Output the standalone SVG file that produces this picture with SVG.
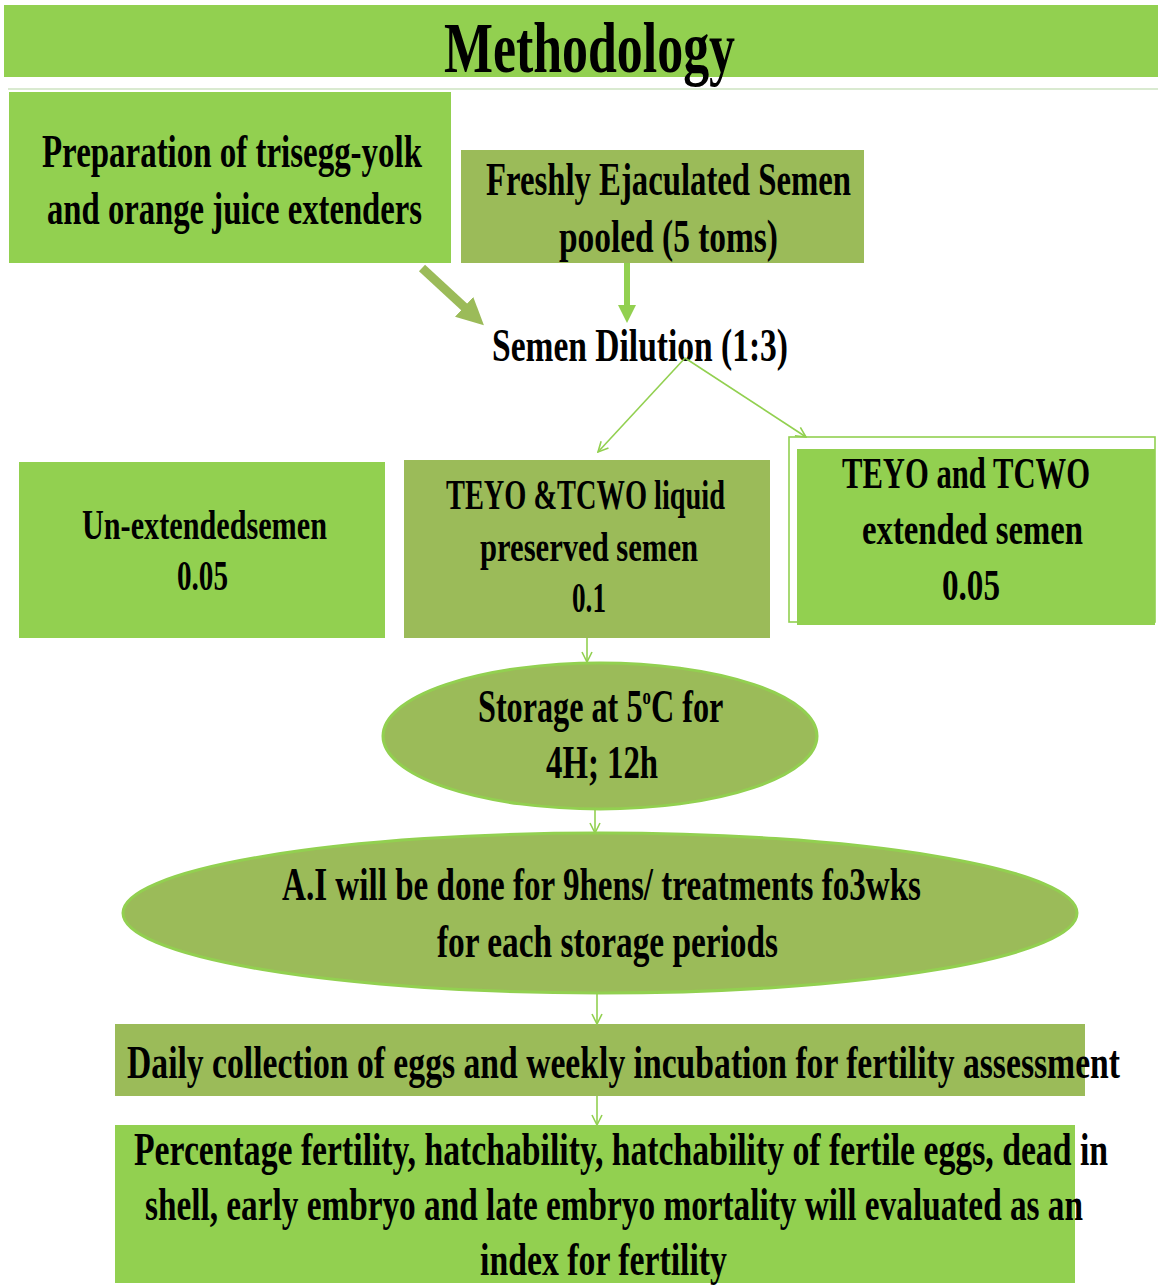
<svg xmlns="http://www.w3.org/2000/svg" width="1158" height="1287" viewBox="0 0 1158 1287">
<defs>
<style>
.t{font-family:"Liberation Serif","Times New Roman",serif;font-weight:bold;fill:#000;}
.lg{fill:#92D050;}
.ol{fill:#9BBB59;}
.thin{stroke:#92D050;stroke-width:1.6;fill:none;}
</style>
<marker id="vh" viewBox="0 0 12 12" refX="11" refY="6" markerWidth="12" markerHeight="12" markerUnits="userSpaceOnUse" orient="auto">
<path d="M1,1 L11,6 L1,11" fill="none" stroke="#92D050" stroke-width="1.6"/>
</marker>
<marker id="thk1" viewBox="0 0 10 10" refX="5" refY="5" markerWidth="3" markerHeight="3" orient="auto">
<path d="M0,0 L10,5 L0,10 Z" fill="#9BBB59"/>
</marker>
<marker id="thk2" viewBox="0 0 10 10" refX="5" refY="5" markerWidth="3" markerHeight="3" orient="auto">
<path d="M0,0 L10,5 L0,10 Z" fill="#92D050"/>
</marker>
</defs>
<rect width="1158" height="1287" fill="#fff"/>

<g id="title">
<rect x="4" y="5" width="1154" height="72" class="lg"/>
<line x1="8" y1="89" x2="1158" y2="89" stroke="#d9ead0" stroke-width="2"/>
<text class="t" x="444" y="72" font-size="72" textLength="291" lengthAdjust="spacingAndGlyphs">Methodology</text>
</g>

<g id="prep">
<rect x="9" y="92" width="442" height="171" class="lg"/>
<text class="t" x="42" y="167" font-size="46" textLength="380" lengthAdjust="spacingAndGlyphs">Preparation of trisegg-yolk</text>
<text class="t" x="47" y="224" font-size="46" textLength="375" lengthAdjust="spacingAndGlyphs">and orange juice extenders</text>
</g>

<g id="fresh">
<rect x="461" y="150" width="403" height="113" class="ol"/>
<text class="t" x="486" y="195" font-size="46" textLength="365" lengthAdjust="spacingAndGlyphs">Freshly Ejaculated Semen</text>
<text class="t" x="559" y="252" font-size="46" textLength="219" lengthAdjust="spacingAndGlyphs">pooled (5 toms)</text>
</g>

<g id="dilution">
<text class="t" x="492" y="361" font-size="46" textLength="296" lengthAdjust="spacingAndGlyphs">Semen Dilution (1:3)</text>
</g>

<g id="unext">
<rect x="19" y="462" width="366" height="176" class="lg"/>
<text class="t" x="82" y="539" font-size="42" textLength="245" lengthAdjust="spacingAndGlyphs">Un-extendedsemen</text>
<text class="t" x="177" y="590" font-size="42" textLength="51" lengthAdjust="spacingAndGlyphs">0.05</text>
</g>

<g id="liquid">
<rect x="404" y="460" width="366" height="178" class="ol"/>
<text class="t" x="446" y="509" font-size="42" textLength="279" lengthAdjust="spacingAndGlyphs">TEYO &amp;TCWO liquid</text>
<text class="t" x="480" y="561" font-size="42" textLength="218" lengthAdjust="spacingAndGlyphs">preserved semen</text>
<text class="t" x="572" y="612" font-size="42" textLength="34" lengthAdjust="spacingAndGlyphs">0.1</text>
</g>

<g id="extended">
<rect x="789" y="437" width="366" height="185" fill="#fff" stroke="#92D050" stroke-width="1.6"/>
<rect x="797" y="449" width="358" height="176" class="lg"/>
<text class="t" x="842" y="488" font-size="44" textLength="248" lengthAdjust="spacingAndGlyphs">TEYO and TCWO</text>
<text class="t" x="862" y="544" font-size="44" textLength="221" lengthAdjust="spacingAndGlyphs">extended semen</text>
<text class="t" x="942" y="600" font-size="44" textLength="58" lengthAdjust="spacingAndGlyphs">0.05</text>
</g>

<g id="storage">
<ellipse cx="600" cy="736" rx="217" ry="73" class="ol" stroke="#92D050" stroke-width="3"/>
<text class="t" transform="translate(478,722) scale(0.70,1)" x="0" y="0" font-size="46">Storage at 5<tspan font-size="24" dy="-18">o</tspan><tspan dy="18">C for</tspan></text>
<text class="t" x="546" y="778" font-size="46" textLength="112" lengthAdjust="spacingAndGlyphs">4H; 12h</text>
</g>

<g id="ai">
<ellipse cx="600" cy="913" rx="477" ry="80" class="ol" stroke="#92D050" stroke-width="3"/>
<text class="t" x="282" y="900" font-size="46" textLength="639" lengthAdjust="spacingAndGlyphs">A.I will be done for 9hens/ treatments fo3wks</text>
<text class="t" x="437" y="957" font-size="46" textLength="341" lengthAdjust="spacingAndGlyphs">for each storage periods</text>
</g>

<g id="daily">
<rect x="115" y="1024" width="970" height="72" class="ol"/>
<text class="t" x="127" y="1078" font-size="46" textLength="993" lengthAdjust="spacingAndGlyphs">Daily collection of eggs and weekly incubation for fertility assessment</text>
</g>

<g id="percent">
<rect x="115" y="1125" width="960" height="158" class="lg"/>
<text class="t" x="134" y="1165" font-size="46" textLength="974" lengthAdjust="spacingAndGlyphs">Percentage fertility, hatchability, hatchability of fertile eggs, dead in</text>
<text class="t" x="145" y="1220" font-size="46" textLength="938" lengthAdjust="spacingAndGlyphs">shell, early embryo and late embryo mortality will evaluated as an</text>
<text class="t" x="480" y="1275" font-size="46" textLength="247" lengthAdjust="spacingAndGlyphs">index for fertility</text>
</g>

<g id="connectors">
<line x1="422" y1="268" x2="474" y2="316" stroke="#9BBB59" stroke-width="9" marker-end="url(#thk1)"/>
<line x1="627" y1="263" x2="627" y2="314" stroke="#92D050" stroke-width="6" marker-end="url(#thk2)"/>
<line x1="685" y1="358" x2="598" y2="452" class="thin" marker-end="url(#vh)"/>
<line x1="685" y1="358" x2="806" y2="437" class="thin" marker-end="url(#vh)"/>
<line x1="587" y1="638" x2="587" y2="662" class="thin" marker-end="url(#vh)"/>
<line x1="595" y1="809" x2="595" y2="833" class="thin" marker-end="url(#vh)"/>
<line x1="597" y1="993" x2="597" y2="1024" class="thin" marker-end="url(#vh)"/>
<line x1="597" y1="1096" x2="597" y2="1125" class="thin" marker-end="url(#vh)"/>
</g>
</svg>
